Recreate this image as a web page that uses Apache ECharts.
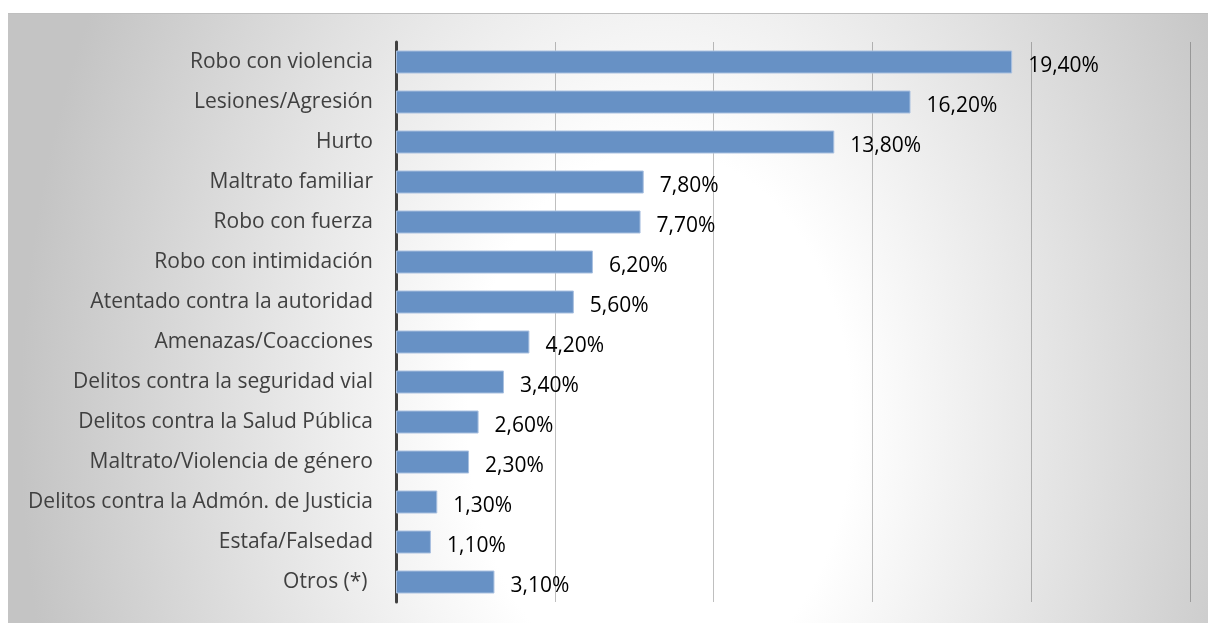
<!DOCTYPE html>
<html>
<head>
<meta charset="utf-8">
<script src="https://cdn.jsdelivr.net/npm/echarts@6/dist/echarts.min.js"></script>
<style>
  html, body { margin: 0; padding: 0; background: #ffffff; }
  #bg {
    position: absolute; left: 8px; top: 13px; width: 1200px; height: 610px;
    border-top: 1px solid #bfbfbf;
    background: radial-gradient(ellipse 640px 900px at 652px 407px, #ffffff 0%, #ffffff 30%, #c4c4c4 100%);
  }
  #chart { position: absolute; left: 0; top: 0; width: 1208px; height: 623px; }
</style>
</head>
<body>
<div id="bg"></div>
<div id="chart"></div>
<script>
const categories = [
  'Robo con violencia',
  'Lesiones/Agresión',
  'Hurto',
  'Maltrato familiar',
  'Robo con fuerza',
  'Robo con intimidación',
  'Atentado contra la autoridad',
  'Amenazas/Coacciones',
  'Delitos contra la seguridad vial',
  'Delitos contra la Salud Pública',
  'Maltrato/Violencia de género',
  'Delitos contra la Admón. de Justicia',
  'Estafa/Falsedad',
  'Otros (*) '
];
const values = [19.4, 16.2, 13.8, 7.8, 7.7, 6.2, 5.6, 4.2, 3.4, 2.6, 2.3, 1.3, 1.1, 3.1];
const axisMin = 0;
const axisMax = 25;
const axisStep = 5;

const chart = echarts.init(document.getElementById('chart'), null, { renderer: 'canvas' });
chart.setOption({
  backgroundColor: 'transparent',
  animation: false,
  grid: { left: 396, right: 18, top: 42, bottom: 21, containLabel: false },
  xAxis: {
    type: 'value',
    min: axisMin, max: axisMax, interval: axisStep,
    axisLine: { show: false },
    axisTick: { show: false },
    axisLabel: { show: false },
    splitLine: { show: true, lineStyle: { color: 'rgba(0,0,0,0.25)', width: 1 } }
  },
  yAxis: {
    type: 'category',
    inverse: true,
    data: categories,
    axisLine: { show: true, lineStyle: { color: '#404040', width: 3 } },
    axisTick: { show: false },
    axisLabel: {
      margin: 23,
      padding: [4, 0, 0, 0],
      color: '#404040',
      fontFamily: 'Open Sans',
      fontSize: 21
    }
  },
  series: [{
    type: 'bar',
    data: values,
    barWidth: 23,
    itemStyle: { color: '#6791c5', borderColor: '#a9c0e0', borderWidth: 1 },
    label: {
      show: true,
      position: 'right',
      distance: 16,
      offset: [0, 4],
      color: '#000000',
      fontFamily: 'Open Sans',
      fontSize: 21,
      formatter: p => p.value.toFixed(2).replace('.', ',') + '%'
    }
  }]
});
</script>
</body>
</html>
